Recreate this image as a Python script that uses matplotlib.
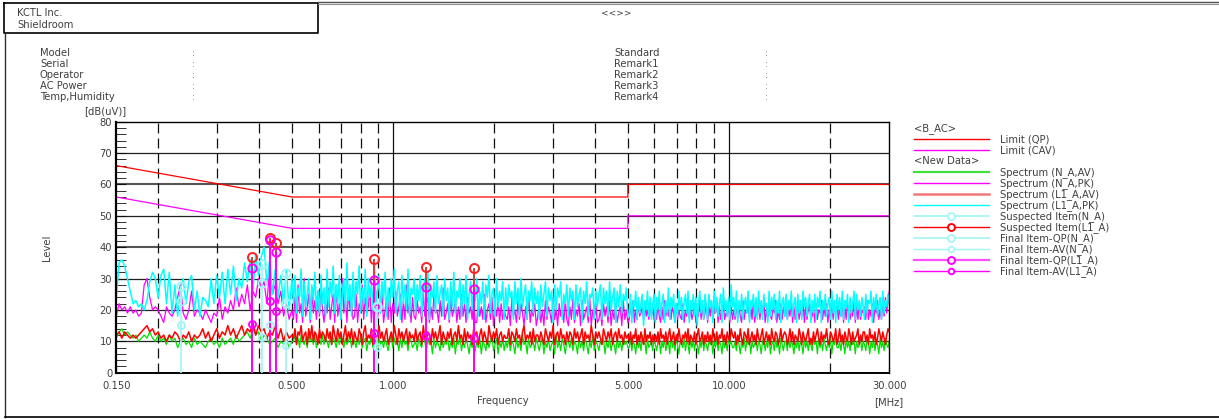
import numpy as np
import matplotlib
matplotlib.use("Agg")
import matplotlib.pyplot as plt
from matplotlib.lines import Line2D

W, H = 1219, 419

# ---------------- data ----------------
# spectrum traces, in three frequency bands: 0.15-0.5, 0.5-5, 5-30 MHz
seg_edges = [0.15, 0.5, 5.0, 30.0]

l1_pk_s1 = ("24 35 36 34 30 26 22 23 21 22 20 23 29 32 30 24 31 33 22 32 19 28 18 27 30 22 29 31 20 26 "
            "18 24 23 21 30 22 31 24 32 22 33 25 34 23 30 27 35 29 36 26 38 31 37 40 28 36 25 33 24 31 22 33 20 30")
l1_pk_s2 = ("22 31 19 27 24 33 18 29 21 25 30 17 28 23 32 20 26 19 31 22 "
            "27 18 33 21 29 24 34 19 28 22 31 17 26 30 20 35 23 28 18 32 "
            "21 29 25 34 19 27 22 33 18 30 24 28 20 35 22 26 31 19 29 23 "
            "32 18 27 21 30 24 33 19 26 29 17 31 22 28 20 33 18 27 25 30 "
            "19 28 23 31 18 26 30 21 32 17 27 24 29 19 31 22 25 28 18 30 "
            "23 27 17 29 21 32 19 26 24 30 18 28 22 31 17 25 29 20 27 23 "
            "30 18 26 22 29 17 28 24 31 19 25 27 18 30 21 26 23 29 17 27 "
            "20 28 24 26 17 29 22 27 18 30 21 25 28 17 26 23 29 19 27 22 "
            "26 17 28 21 25 29 18 27 23 26 16 28 20 27 24 29 17 25 22 28 "
            "18 27 23 26 17 28 21 25 27 16 26 22 29 18 25 24 27 17 26 21 "
            "25 28 17 27 22 26 18 29 20 24 27 16 26 21 28 19 25 23 27 18")
l1_pk_s3 = ("18 25 16 23 21 26 17 24 19 22 25 15 23 20 26 18 24 17 22 25 "
            "16 24 20 26 18 22 25 16 23 19 27 17 24 21 25 16 22 18 26 20 "
            "24 17 22 25 19 26 16 23 20 25 18 24 15 22 26 19 23 17 25 21 "
            "17 25 21 23 16 26 19 24 18 22 25 16 27 20 23 18 24 17 28 21 "
            "24 18 26 16 23 20 25 17 22 24 19 26 16 23 21 25 18 24 17 26 "
            "19 23 17 25 21 22 16 26 18 24 20 25 17 23 19 26 16 22 24 18 "
            "25 17 23 20 26 18 22 24 16 25 19 23 17 26 21 24 18 22 25 16 "
            "23 19 25 17 24 21 26 16 23 20 25 18 22 24 17 26 19 23 16 25 "
            "20 24 18 26 17 23 21 25 16 24 19 22 26 17 25 20 23 18 24 21 "
            "17 25 19 23 22 26 16 24 20 25 18 22 24 17 26 19 23 21 25 22")

na_pk_s1 = ("18 22 20 21 19 21 19 20 18 19 28 30 24 20 21 20 18 16 21 19 18 20 24 28 19 17 20 26 18 20 "
            "19 17 20 18 16 19 18 24 17 21 19 23 20 27 21 25 22 28 20 26 24 30 27 29 22 33 25 28 22 26 18 22 17 20")
na_pk_s2 = ("17 24 16 28 19 22 16 30 18 21 25 16 27 19 23 17 26 18 29 20 "
            "16 23 19 27 17 21 25 16 28 18 22 17 30 19 24 16 26 20 23 17 "
            "18 25 16 22 20 28 17 24 19 21 27 16 23 18 26 17 22 19 25 16 "
            "20 24 17 27 16 22 19 26 18 21 25 16 23 17 28 19 22 16 24 18 "
            "17 23 19 21 16 26 18 22 24 16 21 17 25 19 20 16 23 18 27 17 "
            "19 22 16 24 18 20 23 16 21 17 25 18 22 16 24 19 21 17 23 16 "
            "16 23 18 21 17 25 16 20 22 17 24 15 21 18 23 16 22 17 20 18 "
            "17 21 15 24 18 20 16 23 17 22 19 15 21 17 25 16 20 18 22 15 "
            "18 22 16 20 15 23 17 21 19 16 24 17 20 15 22 18 21 16 23 17 "
            "15 21 17 24 16 20 18 22 15 23 17 19 21 16 24 15 20 17 22 16 "
            "17 20 15 22 18 21 16 23 15 20 17 22 16 19 21 15 23 17 20 16")
na_pk_s3 = ("17 21 18 23 16 20 17 22 18 19 21 17 22 18 20 17 23 18 21 17 "
            "20 17 22 18 16 21 17 23 18 20 18 22 17 21 19 16 22 17 20 18 "
            "17 22 16 20 18 23 17 21 17 19 22 16 20 18 23 17 21 17 19 22 "
            "16 21 18 22 17 20 19 23 16 21 17 20 22 17 19 18 23 16 21 17 "
            "20 17 22 17 21 18 16 23 17 20 19 22 17 21 17 23 16 20 18 22 "
            "17 21 19 23 16 20 17 22 18 17 21 19 23 16 20 17 22 17 21 18 "
            "22 17 20 18 23 16 21 17 19 22 17 20 18 23 16 21 17 20 22 17 "
            "18 21 16 22 17 20 19 23 17 21 18 22 16 20 17 23 17 21 19 22 "
            "17 20 18 23 16 21 17 22 19 17 20 18 24 16 21 17 22 17 20 19 "
            "21 17 23 17 20 18 22 16 21 19 23 17 20 17 22 18 24 19 23 26")

na_av_s1 = ("11 13 14 12 13 12 11 12 10 11 12 11 13 11 10 12 10 11 9 12 10 11 8 10 11 9 10 8 11 9 "
            "10 9 8 10 11 9 10 8 11 9 10 11 9 12 10 11 12 13 11 14 12 13 10 12 11 9 10 11 8 10 9 11 8 10")
na_av_s2 = ("10 12 9 11 8 12 10 9 11 8 12 10 11 9 12 8 10 11 9 12 "
            "9 11 10 8 12 9 11 10 8 11 9 12 10 8 11 9 10 12 8 11 "
            "10 8 11 9 12 8 10 11 7 10 9 12 8 11 10 7 11 9 10 8 "
            "11 9 7 10 12 8 11 9 10 7 11 8 12 9 10 7 11 10 8 9 "
            "10 7 11 9 8 12 10 7 11 9 10 6 11 8 10 9 7 12 8 10 "
            "9 11 7 10 8 11 6 10 9 12 7 10 8 11 9 6 10 8 11 7 "
            "10 8 11 6 10 9 7 11 8 10 12 7 9 11 6 10 8 11 7 10 "
            "8 11 7 10 9 6 11 8 10 7 12 9 10 6 11 8 9 10 7 11 "
            "9 7 10 11 6 10 8 11 7 9 10 6 12 8 10 7 11 9 6 10 "
            "10 8 11 7 10 9 6 11 8 10 7 11 9 6 10 8 12 7 10 9 "
            "7 10 9 11 6 10 8 11 7 10 9 6 11 8 10 7 11 9 10 8")
na_av_s3 = ("8 11 7 10 9 6 11 8 10 7 12 9 10 6 11 8 9 10 7 11 "
            "9 7 10 11 6 10 8 11 7 9 10 6 12 8 10 7 11 9 6 10 "
            "10 8 11 7 10 9 6 11 8 10 7 11 9 6 10 8 12 7 10 9 "
            "7 10 9 11 6 10 8 11 7 10 9 6 11 8 10 7 11 9 10 8 "
            "8 10 7 11 9 6 10 8 11 7 10 9 11 6 10 8 9 11 7 10 "
            "9 6 10 11 7 10 8 12 6 9 10 7 11 8 10 6 11 9 7 10 "
            "10 7 11 8 10 9 6 10 8 11 7 10 9 6 11 8 10 7 10 9 "
            "7 11 9 10 6 11 8 10 7 11 9 7 10 8 11 6 10 9 11 8 "
            "8 10 7 11 9 6 11 8 10 7 11 9 10 6 10 8 9 11 7 10 "
            "9 7 11 10 6 10 8 11 7 10 9 6 11 8 10 7 11 9 8 10")

l1_av_s1 = ("12 13 11 13 12 11 12 11 12 13 14 15 13 14 12 13 11 12 10 12 11 13 12 10 12 11 13 10 12 11 "
            "12 14 11 13 10 12 14 11 13 12 15 12 14 11 13 15 12 14 13 16 12 15 13 14 11 13 12 15 11 14 10 13 11 12")
l1_av_s2 = ("11 14 9 13 12 15 10 12 13 9 14 11 15 10 13 12 9 14 11 13 "
            "12 10 14 11 13 9 15 12 10 14 11 13 9 12 15 10 13 11 14 9 "
            "13 11 10 14 12 9 13 15 10 12 11 14 9 13 12 10 15 11 13 10 "
            "12 14 9 11 13 10 15 12 9 14 11 13 10 12 14 9 13 11 12 10 "
            "14 10 12 13 9 15 11 10 13 12 9 14 11 13 10 12 15 9 13 11 "
            "10 13 11 14 9 12 13 10 15 11 12 9 14 10 13 11 12 9 14 12 "
            "13 9 12 14 10 13 11 9 15 12 10 13 11 14 9 12 13 10 12 11 "
            "11 14 9 13 12 10 14 11 12 9 13 15 10 12 11 13 9 14 10 12 "
            "12 10 13 11 9 14 12 10 13 11 15 9 12 13 10 14 11 12 9 13 "
            "10 13 12 9 14 11 13 10 12 14 9 13 11 12 10 15 12 9 13 11 "
            "13 11 9 14 12 10 13 11 14 9 12 13 10 14 11 12 9 13 11 12")
l1_av_s3 = ("10 13 9 12 11 14 9 12 10 13 11 9 14 10 12 11 13 9 12 10 "
            "12 10 13 9 14 11 12 10 13 9 12 14 10 11 13 9 12 10 14 11 "
            "9 12 11 13 10 14 9 12 11 10 13 9 12 14 10 11 13 9 12 10 "
            "13 10 12 9 14 11 10 13 9 12 11 14 10 12 9 13 11 10 14 12 "
            "11 13 9 12 10 14 11 9 13 12 10 14 9 11 13 10 12 9 14 11 "
            "10 12 14 9 11 13 10 12 9 14 11 10 13 12 9 11 14 10 12 13 "
            "12 9 11 14 10 13 9 12 11 10 14 12 9 13 11 10 12 14 9 11 "
            "9 13 10 12 14 11 9 13 10 12 11 14 10 9 13 12 10 11 14 9 "
            "11 14 10 12 9 13 11 10 14 12 9 13 10 11 12 14 9 12 10 13 "
            "13 10 12 9 14 11 12 10 13 9 11 14 12 10 13 11 9 12 14 13")

limit_qp_f = [0.15, 0.5, 0.5, 5.0, 5.0, 30.0]
limit_qp_v = [66, 56, 56, 56, 60, 60]
limit_av_f = [0.15, 0.5, 0.5, 5.0, 5.0, 30.0]
limit_av_v = [56, 46, 46, 46, 50, 50]

l1_freq = [0.379, 0.430, 0.449, 0.877, 1.253, 1.745]
l1_susp = [37.0, 42.8, 41.2, 36.1, 33.8, 33.3]
l1_qp = [33.5, 42.3, 38.6, 29.5, 27.4, 26.7]
l1_av = [15.6, 22.9, 19.7, 12.6, 11.7, 11.2]

na_freq = [0.233, 0.408, 0.430, 0.479, 0.894]
na_susp = [27.7, 34.6, np.nan, 31.9, 21.4]
na_qp = [22.9, 28.7, np.nan, 22.3, 21.0]
na_av = [15.1, 11.5, 15.2, 8.8, 8.3]

x_tick_vals = [0.15, 0.5, 1.0, 5.0, 10.0, 30.0]
x_tick_labels = ["0.150", "0.500", "1.000", "5.000", "10.000", "30.000"]
y_tick_vals = [0, 10, 20, 30, 40, 50, 60, 70, 80]

header_left = ["Model", "Serial", "Operator", "AC Power", "Temp,Humidity"]
header_right = ["Standard", "Remark1", "Remark2", "Remark3", "Remark4"]

legend_rows = [
    ("head", "<B_AC>"),
    ("limqp", "Limit (QP)"),
    ("limav", "Limit (CAV)"),
    ("head", "<New Data>"),
    ("naav", "Spectrum (N_A,AV)"),
    ("napk", "Spectrum (N_A,PK)"),
    ("l1av", "Spectrum (L1_A,AV)"),
    ("l1pk", "Spectrum (L1_A,PK)"),
    ("nasus", "Suspected Item(N_A)"),
    ("l1sus", "Suspected Item(L1_A)"),
    ("naqp", "Final Item-QP(N_A)"),
    ("naavm", "Final Item-AV(N_A)"),
    ("l1qp", "Final Item-QP(L1_A)"),
    ("l1avm", "Final Item-AV(L1_A)"),
]


# ---------------- build traces ----------------
def trace(*parts):
    fs, vs = [], []
    for k, p in enumerate(parts):
        v = np.array(p.split(), dtype=float)
        n = len(v) + (0 if k == 0 else 1)
        f = np.geomspace(seg_edges[k], seg_edges[k + 1], n)
        fs.append(f if k == 0 else f[1:])
        vs.append(v)
    return np.concatenate(fs), np.concatenate(vs)


f_napk, v_napk = trace(na_pk_s1, na_pk_s2, na_pk_s3)
f_naav, v_naav = trace(na_av_s1, na_av_s2, na_av_s3)
f_l1pk, v_l1pk = trace(l1_pk_s1, l1_pk_s2, l1_pk_s3)
f_l1av, v_l1av = trace(l1_av_s1, l1_av_s2, l1_av_s3)

C_CYAN = "#00ffff"
C_MAG = "#ff00ff"
C_GREEN = "#00e000"
C_RED = "#ff0000"
C_LCYAN = "#9ff5f5"
TXT = "#404040"
plt.rcParams["font.family"] = ["DejaVu Sans"]

fig = plt.figure(figsize=(W / 100, H / 100), dpi=100)


def fx(x):
    return x / W


def fy(y):
    return 1 - y / H


ax = fig.add_axes([fx(116.3), fy(372.7), fx(889.3) - fx(116.3), fy(121.7) - fy(372.7)])
ax.set_xscale("log")
ax.set_xlim(0.15, 30)
ax.set_ylim(0, 80)

# grid
for v in y_tick_vals[1:-1]:
    if v in (40, 60):
        ax.axhline(v, color="#555555", lw=1.5, zorder=1)
    else:
        ax.axhline(v, color="#202020", lw=0.9, zorder=1)
dashed_f = [0.2, 0.3, 0.4, 0.5, 0.6, 0.7, 0.8, 0.9, 2, 3, 4, 5, 6, 7, 8, 9, 20]
for f in dashed_f:
    ax.axvline(f, color="#101010", lw=0.9, dashes=(8, 4), zorder=1)
for f in [1.0, 10.0]:
    ax.axvline(f, color="#101010", lw=0.9, zorder=1)

# limits
ax.plot(limit_qp_f, limit_qp_v, color=C_RED, lw=0.9, zorder=2)
ax.plot(limit_av_f, limit_av_v, color=C_MAG, lw=0.9, zorder=2)

# spectra
ax.plot(f_napk, v_napk, color=C_MAG, lw=0.9, zorder=2)
ax.plot(f_naav, v_naav, color=C_GREEN, lw=0.9, zorder=2)
ax.plot(f_l1pk, v_l1pk, color=C_CYAN, lw=1.1, zorder=2.1)
ax.plot(f_l1av, v_l1av, color=C_RED, lw=1.1, zorder=2.2)

# stems
na_top = np.nanmax(np.vstack([na_susp, na_qp, na_av]), axis=0)
ax.vlines(na_freq, 0, na_top, color=C_LCYAN, lw=1.2, zorder=3)
ax.vlines(l1_freq, 0, l1_susp, color="#d04040", lw=1.4, zorder=3)
ax.vlines(l1_freq, 0, l1_qp, color=C_MAG, lw=1.4, zorder=3.1)

# markers
ax.plot(na_freq, na_susp, "o", ms=6, mfc="none", mec=C_LCYAN, mew=1.3, zorder=4)
ax.plot(na_freq, na_qp, "o", ms=6, mfc="none", mec=C_LCYAN, mew=1.3, zorder=4)
ax.plot(na_freq, na_av, "o", ms=5, mfc="none", mec=C_LCYAN, mew=1.3, zorder=4)
ax.plot(l1_freq, l1_susp, "o", ms=6.5, mfc="none", mec="#ff2020", mew=1.4, zorder=4.2)
ax.plot(l1_freq, l1_qp, "o", ms=6, mfc="none", mec=C_MAG, mew=1.4, zorder=4.2)
ax.plot(l1_freq, l1_av, "o", ms=5, mfc="none", mec=C_MAG, mew=1.4, zorder=4.2)

# ticks
ax.set_xticks(x_tick_vals)
ax.set_xticklabels(x_tick_labels)
ax.set_xticks([0.2, 0.3, 0.4, 0.6, 0.7, 0.8, 0.9, 2, 3, 4, 6, 7, 8, 9, 20], minor=True)
ax.xaxis.set_minor_formatter(plt.NullFormatter())
ax.tick_params(axis="x", which="major", length=4, direction="in", pad=6, labelsize=7.2, colors=TXT)
ax.tick_params(axis="x", which="minor", length=4, direction="in", color="#101010")
ax.set_yticks(y_tick_vals)
ax.set_yticks(np.arange(0, 81, 2), minor=True)
ax.tick_params(axis="y", which="both", length=7, direction="in", pad=3, labelsize=7.2, colors=TXT)
ax.tick_params(axis="y", which="both", color="#101010")
ax.tick_params(axis="x", which="major", color="#101010")
for lab in ax.get_xticklabels() + ax.get_yticklabels():
    lab.set_color(TXT)
for s in ax.spines.values():
    s.set_color("#000000")
    s.set_linewidth(1.0)
ax.spines["left"].set_linewidth(1.6)
ax.spines["bottom"].set_linewidth(1.4)

# axis texts
fig.text(fx(503), fy(401), "Frequency", ha="center", va="center", fontsize=7.2, color=TXT)
fig.text(fx(889), fy(402), "[MHz]", ha="center", va="center", fontsize=7.2, color=TXT)
fig.text(fx(47), fy(248), "Level", ha="center", va="center", rotation=90, fontsize=7.2, color=TXT)
fig.text(fx(105), fy(111), "[dB(uV)]", ha="center", va="center", fontsize=7.2, color=TXT)

# header
fig.add_artist(Line2D([fx(4), fx(318), fx(318), fx(4), fx(4)],
                      [fy(3), fy(3), fy(33), fy(33), fy(3)], color="#000000", lw=1.2))
fig.add_artist(Line2D([fx(318), fx(1219)], [fy(2.5), fy(2.5)], color="#505050", lw=1.0))
fig.add_artist(Line2D([fx(318), fx(1219)], [fy(4.5), fy(4.5)], color="#909090", lw=0.8))
fig.add_artist(Line2D([fx(5), fx(5)], [fy(33), fy(417)], color="#303030", lw=1.0))
fig.add_artist(Line2D([fx(5), fx(1219)], [fy(417), fy(417)], color="#000000", lw=1.2))
fig.text(fx(17), fy(12.5), "KCTL Inc.", ha="left", va="center", fontsize=7.2, color=TXT)
fig.text(fx(17), fy(24.5), "Shieldroom", ha="left", va="center", fontsize=7.2, color=TXT)
fig.text(fx(601), fy(13), "<<>>", ha="left", va="center", fontsize=6.5, color=TXT)
for i, (a, b) in enumerate(zip(header_left, header_right)):
    y = 53 + 11 * i
    fig.text(fx(40), fy(y), a, ha="left", va="center", fontsize=7.2, color=TXT)
    fig.text(fx(192), fy(y), ":", ha="left", va="center", fontsize=6.5, color="#707070")
    fig.text(fx(614), fy(y), b, ha="left", va="center", fontsize=7.2, color=TXT)
    fig.text(fx(765), fy(y), ":", ha="left", va="center", fontsize=6.5, color="#707070")

# legend
styles = {
    "limqp": dict(color=C_RED, lw=1.0),
    "limav": dict(color=C_MAG, lw=1.0),
    "naav": dict(color="#40e040", lw=1.6),
    "napk": dict(color=C_MAG, lw=1.0),
    "l1av": dict(color="#f07878", lw=1.8),
    "l1pk": dict(color=C_CYAN, lw=1.0),
    "nasus": dict(color=C_LCYAN, lw=1.2, marker="o", ms=5, mfc="white", mec=C_LCYAN, mew=1.2),
    "l1sus": dict(color=C_RED, lw=1.0, marker="o", ms=5, mfc="white", mec=C_RED, mew=1.4),
    "naqp": dict(color=C_LCYAN, lw=1.2, marker="o", ms=5, mfc="white", mec=C_LCYAN, mew=1.2),
    "naavm": dict(color=C_LCYAN, lw=1.0, marker="o", ms=4, mfc="white", mec=C_LCYAN, mew=1.2),
    "l1qp": dict(color="#ff50ff", lw=1.6, marker="o", ms=5, mfc="white", mec=C_MAG, mew=1.4),
    "l1avm": dict(color=C_MAG, lw=1.0, marker="o", ms=4, mfc="white", mec=C_MAG, mew=1.4),
}
y0 = 128.3
for i, (kind, label) in enumerate(legend_rows):
    y = y0 + 10.95 * i
    if kind == "head":
        fig.text(fx(914), fy(y), label, ha="left", va="center", fontsize=7.2, color=TXT)
        continue
    st = dict(styles[kind])
    mk = st.pop("marker", None)
    fig.add_artist(Line2D([fx(914), fx(989)], [fy(y), fy(y)], color=st["color"], lw=st["lw"]))
    if mk:
        fig.add_artist(Line2D([fx(950.7)], [fy(y)], marker=mk, ms=st["ms"], mfc=st["mfc"],
                              mec=st["mec"], mew=st["mew"], lw=0))
    fig.text(fx(1000), fy(y + 0.5), label, ha="left", va="center", fontsize=7.2, color=TXT)

fig.savefig("out.png", dpi=100)
